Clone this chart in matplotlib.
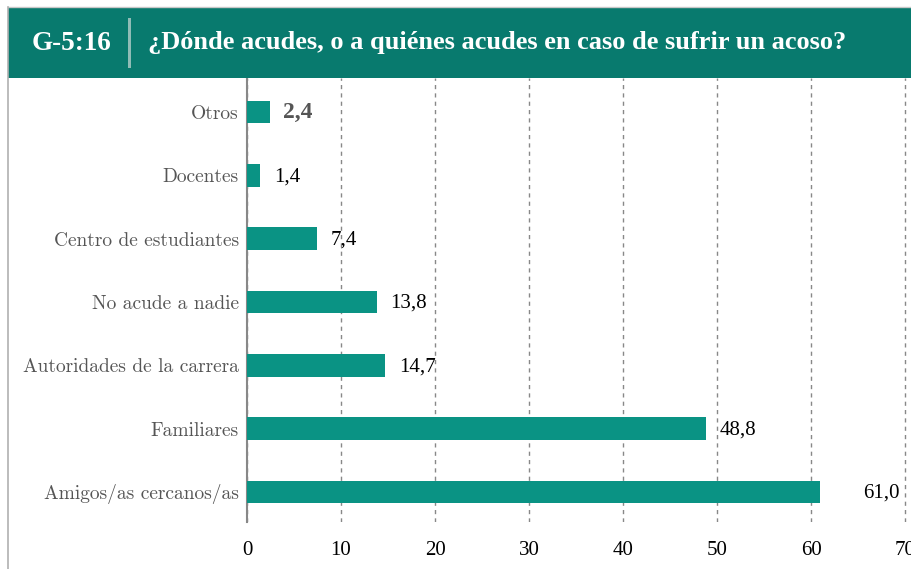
import matplotlib
matplotlib.use("Agg")
import matplotlib.pyplot as plt
from matplotlib.patches import Rectangle
from matplotlib.lines import Line2D

categories = ["Amigos/as cercanos/as", "Familiares", "Autoridades de la carrera",
              "No acude a nadie", "Centro de estudiantes", "Docentes", "Otros"]
values = [61.0, 48.8, 14.7, 13.8, 7.4, 1.4, 2.4]
labels = ["61,0", "48,8", "14,7", "13,8", "7,4", "1,4", "2,4"]
xticks = [0, 10, 20, 30, 40, 50, 60, 70]
title_code = "G-5:16"
title_text = "¿Dónde acudes, o a quiénes acudes en caso de sufrir un acoso?"

bar_color = "#0a9384"
header_color = "#087a6e"
serif_cm = ["cmr10", "DejaVu Serif"]
serif_t = ["Liberation Serif", "DejaVu Serif"]
plt.rcParams["axes.unicode_minus"] = False

W, H = 911, 569
fig = plt.figure(figsize=(W / 100, H / 100), dpi=100)
fig.patch.set_facecolor("white")

# header band and frame lines
fig.add_artist(Rectangle((8 / W, 1 - 78 / H), 1 - 8 / W, 70 / H, transform=fig.transFigure,
                         facecolor=header_color, edgecolor="none"))
fig.add_artist(Line2D([8 / W, 1], [1 - 7 / H, 1 - 7 / H], transform=fig.transFigure,
                      color="#c8c8c8", lw=1))
fig.add_artist(Line2D([8 / W, 8 / W], [0, 1 - 7 / H], transform=fig.transFigure,
                      color="#b0b0b0", lw=1.2))
fig.add_artist(Rectangle((128 / W, 1 - 68 / H), 3 / W, 50 / H, transform=fig.transFigure,
                         facecolor="#8fbcb6", edgecolor="none"))
fig.text(32 / W, 1 - 43 / H, title_code, color="white", fontsize=19.5, fontweight="bold",
         family=serif_t, va="center", ha="left")
fig.text(148 / W, 1 - 43 / H, title_text, color="white", fontsize=19, fontweight="bold",
         family=serif_t, va="center", ha="left")

ax = fig.add_axes([247 / W, 1 - 522 / H, (W - 247) / W, (522 - 78) / H])
y = list(range(len(categories)))
ax.barh(y, values, height=0.36, color=bar_color, zorder=3)
ax.set_xlim(0, (W - 247) / 9.4)
ax.set_ylim(-0.474, 6.537)
ax.set_xticks(xticks)
ax.set_xticklabels([str(t) for t in xticks], family=serif_t, fontsize=15, color="black")
ax.set_yticks(y)
ax.set_yticklabels(categories, family=serif_cm, fontsize=14, color="#555555")
ax.tick_params(axis="both", length=0)
ax.tick_params(axis="y", pad=6)
ax.tick_params(axis="x", pad=14)
for s in ["top", "right", "bottom"]:
    ax.spines[s].set_visible(False)
ax.spines["left"].set_color("#888888")
ax.spines["left"].set_linewidth(1.5)
ax.grid(axis="x", linestyle=(0, (3, 3)), color="#888888", lw=1, zorder=0)
ax.set_axisbelow(True)

for yi, v, lab, cat in zip(y, values, labels, categories):
    if cat == "Otros":
        ax.annotate(lab, (v, yi), xytext=(10, 0), textcoords="offset points", va="center",
                    ha="left", fontsize=17, fontweight="bold", color="#555555", family=serif_t)
    elif cat.startswith("Amigos"):
        ax.annotate(lab, (v, yi), xytext=(31, -1), textcoords="offset points", va="center",
                    ha="left", fontsize=15, color="black", family=serif_t)
    else:
        ax.annotate(lab, (v, yi), xytext=(10, -1), textcoords="offset points", va="center",
                    ha="left", fontsize=15, color="black", family=serif_t)

fig.savefig("out.png", dpi=100)
